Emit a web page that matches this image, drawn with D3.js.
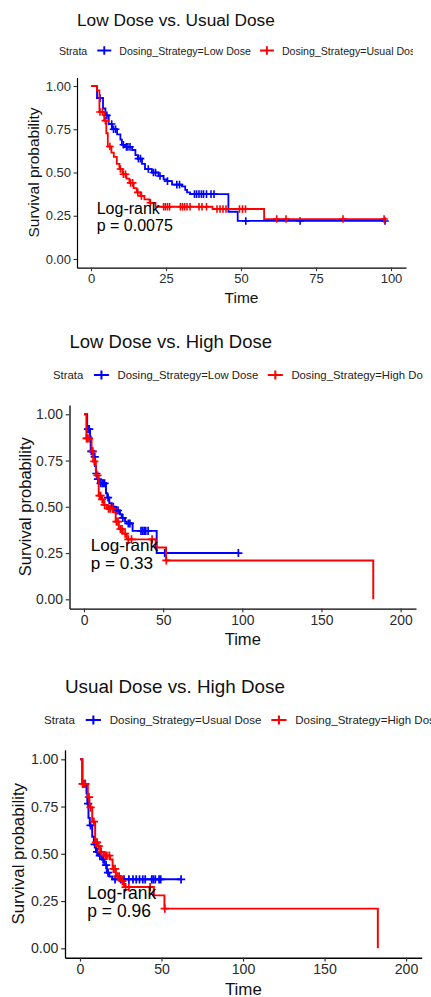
<!DOCTYPE html>
<html>
<head>
<meta charset="utf-8">
<script src="https://cdn.jsdelivr.net/npm/d3@7"></script>
<style>
  body { margin: 0; background: #fff; }
  svg { display: block; font-family: "Liberation Sans", Arial, sans-serif; }
</style>
</head>
<body>
<svg id="chart" width="431" height="997"></svg>
<script>
// tick labels
const yTicks = [0, 0.25, 0.5, 0.75, 1];
const xTicksShort = [0, 25, 50, 75, 100];
const xTicksLong = [0, 50, 100, 150, 200];

// panel 1 - low dose
const lowA_time = [0, 2, 4, 4.8, 5.9, 7, 8.7, 9.8, 10.3, 11.4, 13.7, 14.8, 15.6, 17, 18, 20.3, 22.5, 24.2, 25.3, 27, 30.3, 31.4, 32, 33, 45.8, 48.9];
const lowA_surv = [1, .93, .87, .83, .78, .75, .72, .69, .66, .648, .63, .60, .58, .55, .52, .50, .48, .46, .45, .43, .42, .40, .385, .375, .273, .22];
const lowA_cens = [3, 5.3, 6.9, 7.5, 8.2, 10.8, 11.8, 12.3, 13, 15.8, 16.5, 19.1, 20.8, 21.5, 23, 25.5, 28.6, 29.5, 34.5, 35.2, 36, 36.8, 37.5, 38.5, 40, 41, 51.6, 69.7, 98];

// panel 1 - usual dose
const usualA_time = [0, 2, 2.8, 4.4, 5.1, 5.6, 6.8, 7.6, 8.6, 9.5, 10.5, 11.8, 12.8, 14.2, 15.2, 16.5, 17.8, 19.5, 21.5, 40.5, 57.7];
const usualA_surv = [1, .975, .85, .80, .727, .65, .615, .59, .55, .52, .49, .465, .44, .41, .385, .365, .345, .325, .302, .289, .231];
const usualA_cens = [3, 3.8, 4.8, 6.3, 9.8, 10.8, 11.5, 13.2, 13.9, 15.6, 16.8, 19.8, 24.2, 24.8, 25.5, 26.2, 29.8, 30.5, 31.2, 32, 33, 36, 37, 38.5, 42, 43, 44, 45, 49.5, 50.5, 51.5, 61.9, 65, 84, 97.7];

// panel 2 - low dose
const lowB_time = [0, 2, 3.8, 4.2, 5.9, 6.9, 7.6, 8.4, 9.5, 13.9, 14.7, 16, 17.5, 19.6, 22.7, 23.8, 25.9, 27, 30.7, 45.9];
const lowB_surv = [1, .92, .88, .80, .77, .72, .68, .65, .627, .573, .55, .52, .50, .48, .46, .44, .42, .41, .37, .25];
const lowB_cens = [2.5, 3.3, 4.6, 5.3, 6.8, 7.8, 8.8, 10.5, 11.5, 12.2, 13, 15.2, 18.5, 20.3, 21.5, 24.5, 28, 29, 36, 37, 38, 39, 40.5, 51, 97.5];

// panels 2 and 3 - high dose
const high_time = [0, 1.5, 4.8, 5.8, 7.5, 9.3, 10.8, 12.5, 14.5, 18.5, 20, 22, 24.5, 27, 45.3, 51.8, 182.7];
const high_surv = [1, .87, .80, .745, .67, .56, .54, .51, .49, .47, .42, .38, .355, .324, .28, .21, 0];
const high_cens = [1.6, 2.2, 3.2, 5.5, 6.5, 8.5, 9.8, 10.5, 11.5, 13, 15.5, 16.5, 18, 20.5, 21.5, 23, 24, 26, 28, 30, 43, 52];

// panel 3 - usual dose
const usualC_time = [0, 1.4, 4, 4.5, 5.2, 6, 7.5, 8.5, 9.8, 11.5, 13.5, 15, 16.5, 18, 19.8];
const usualC_surv = [1, .87, .82, .765, .69, .65, .59, .55, .51, .49, .47, .44, .40, .38, .365];
const usualC_cens = [3.2, 5, 6.5, 9, 10.5, 12.2, 14.2, 16, 17.2, 21.5, 25, 27, 30, 32.5, 34.5, 36.5, 38.5, 40, 44, 45, 46.2, 48.5, 49.5, 62];

const BLUE = "#0000ff", RED = "#ff0000";

const panels = [
  { title: "Low Dose vs. Usual Dose", pval: "p = 0.0075", k: 1,
    xDom: [-4.67, 105], xRange: [77, 406], yRange: [267.65, 77.35], xTicks: xTicksShort,
    titleY: 20, legY: 50.5, strataX: 59, clipR: 413, pvalT: 1.9, yLabX: 33, timeY: 297,
    series: [
      { name: "Dosing_Strategy=Low Dose", color: BLUE, time: lowA_time, surv: lowA_surv, cens: lowA_cens },
      { name: "Dosing_Strategy=Usual Dose", color: RED, time: usualA_time, surv: usualA_surv, cens: usualA_cens }
    ] },
  { title: "Low Dose vs. High Dose", pval: "p = 0.33", k: 1.07,
    xDom: [-9.16, 209.7], xRange: [69.5, 416], yRange: [608.55, 405.05], xTicks: xTicksLong,
    titleY: 341.7, legY: 375, strataX: 53, clipR: 423, pvalT: 4.2, yLabX: 25, timeY: 639,
    series: [
      { name: "Dosing_Strategy=Low Dose", color: BLUE, time: lowB_time, surv: lowB_surv, cens: lowB_cens },
      { name: "Dosing_Strategy=High Dose", color: RED, time: high_time, surv: high_surv, cens: high_cens }
    ] },
  { title: "Usual Dose vs. High Dose", pval: "p = 0.96", k: 1.09,
    xDom: [-9.2, 209.6], xRange: [65, 421.7], yRange: [957.75, 749.85], xTicks: xTicksLong,
    titleY: 686, legY: 720, strataX: 44, clipR: 431, pvalT: 4.5, yLabX: 18.3, timeY: 989,
    series: [
      { name: "Dosing_Strategy=Usual Dose", color: BLUE, time: usualC_time, surv: usualC_surv, cens: usualC_cens },
      { name: "Dosing_Strategy=High Dose", color: RED, time: high_time, surv: high_surv, cens: high_cens }
    ] }
];

const svg = d3.select("#chart");

//step value of a KM curve at time t
const survAt = (s, t) => s.surv[Math.max(0, d3.bisectRight(s.time, t) - 1)];

panels.forEach((p, pi) => {
  const k = p.k;
  const x = d3.scaleLinear().domain(p.xDom).range(p.xRange);
  const y = d3.scaleLinear().domain([-0.05, 1.05]).range(p.yRange);
  const g = svg.append("g");

  // title
  g.append("text").attr("x", p.xRange[0]).attr("y", p.titleY)
    .attr("dominant-baseline", "central")
    .attr("font-size", 17.3 * k).attr("fill", "#111")
    .text(p.title);

  // legend, cut at the right edge like the original image
  const clipId = "clip" + pi;
  g.append("clipPath").attr("id", clipId)
    .append("rect").attr("x", 0).attr("y", p.legY - 15).attr("width", p.clipR).attr("height", 30);
  const leg = g.append("g").attr("clip-path", `url(#${clipId})`);
  const fs = 10.6 * k;
  let cx = p.strataX;
  const strata = leg.append("text").attr("x", cx).attr("y", p.legY)
    .attr("dominant-baseline", "central").attr("font-size", fs).attr("fill", "#222").text("Strata");
  cx += strata.node().getComputedTextLength() + 10 * k;
  p.series.forEach(s => {
    const kw = 14 * k, mid = cx + kw / 2;
    leg.append("path")
      .attr("d", `M${cx},${p.legY}H${cx + kw}M${mid - 3.8 * k},${p.legY}H${mid + 3.8 * k}M${mid},${p.legY - 4.2 * k}V${p.legY + 4.2 * k}`)
      .attr("stroke", s.color).attr("stroke-width", 1.9 * k).attr("fill", "none");
    cx += kw + 8 * k;
    const t = leg.append("text").attr("x", cx).attr("y", p.legY)
      .attr("dominant-baseline", "central").attr("font-size", fs).attr("fill", "#222").text(s.name);
    cx += t.node().getComputedTextLength() + 9 * k;
  });

  // axes
  const xAxis = g.append("g").attr("transform", `translate(0,${p.yRange[0]})`)
    .call(d3.axisBottom(x).tickValues(p.xTicks).tickFormat(d3.format("d"))
      .tickSize(3.5 * k).tickSizeOuter(0).tickPadding(2.5 * k));
  const yAxis = g.append("g").attr("transform", `translate(${p.xRange[0]},0)`)
    .call(d3.axisLeft(y).tickValues(yTicks).tickFormat(d3.format(".2f"))
      .tickSize(3.5 * k).tickSizeOuter(0).tickPadding(2.5 * k));
  [xAxis, yAxis].forEach(a => {
    a.select(".domain").attr("stroke", "#000").attr("stroke-width", 1.2 * k);
    a.selectAll(".tick line").attr("stroke", "#333").attr("stroke-width", 1.1 * k);
    a.selectAll(".tick text").attr("fill", "#2b2b2b").attr("font-size", 13 * k)
      .attr("font-family", "Liberation Sans, Arial, sans-serif");
  });

  // axis titles
  g.append("text")
    .attr("transform", `translate(${p.yLabX},${(p.yRange[0] + p.yRange[1]) / 2}) rotate(-90)`)
    .attr("text-anchor", "middle").attr("dominant-baseline", "central")
    .attr("font-size", 15.5 * k).attr("fill", "#111").text("Survival probability");
  g.append("text")
    .attr("x", (p.xRange[0] + p.xRange[1]) / 2).attr("y", p.timeY)
    .attr("text-anchor", "middle").attr("dominant-baseline", "central")
    .attr("font-size", 15.5 * k).attr("fill", "#111").text("Time");

  // curves
  const line = d3.line().x(d => x(d[0])).y(d => y(d[1])).curve(d3.curveStepAfter);
  p.series.forEach(s => {
    const pts = s.time.map((t, i) => [t, s.surv[i]]);
    const end = Math.max(d3.max(s.time), d3.max(s.cens));
    pts.push([end, s.surv[s.surv.length - 1]]);
    g.append("path").datum(pts).attr("d", line)
      .attr("fill", "none").attr("stroke", s.color).attr("stroke-width", 1.8 * k);
    const h = 3.8 * k;
    g.append("g").selectAll("path").data(s.cens).join("path")
      .attr("d", t => {
        const px = x(t), py = y(survAt(s, t));
        return `M${px - h},${py}H${px + h}M${px},${py - h}V${py + h}`;
      })
      .attr("stroke", s.color).attr("stroke-width", 1.6 * k).attr("fill", "none");
  });

  // log-rank annotation
  const pv = g.append("text").attr("x", x(p.pvalT)).attr("font-size", 16 * k).attr("fill", "#000");
  pv.append("tspan").attr("x", x(p.pvalT)).attr("y", y(0.293)).attr("dominant-baseline", "central").text("Log-rank");
  pv.append("tspan").attr("x", x(p.pvalT)).attr("y", y(0.195)).attr("dominant-baseline", "central").text(p.pval);
});
</script>
</body>
</html>
